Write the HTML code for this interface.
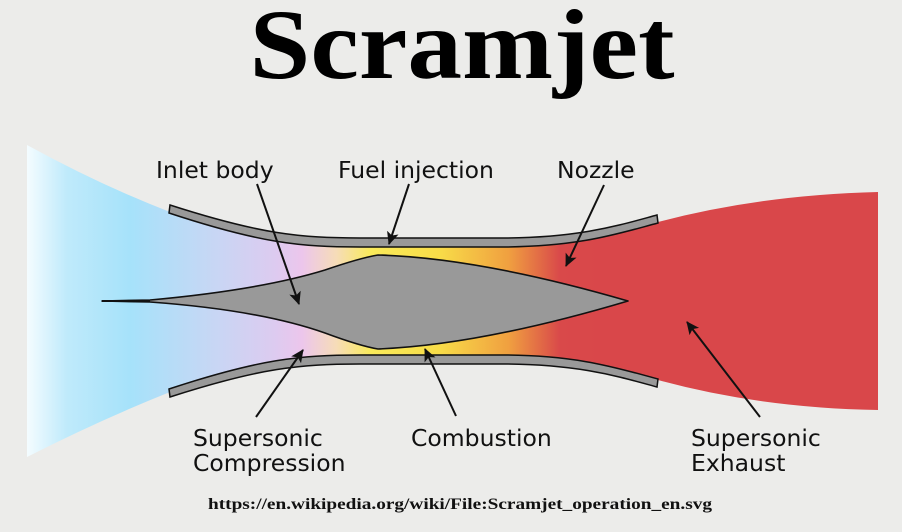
<!DOCTYPE html>
<html><head><meta charset="utf-8"><style>
html,body{margin:0;padding:0;background:#ececea;width:902px;height:532px;overflow:hidden}
svg{display:block}
.l{font-family:"DejaVu Sans","Liberation Sans",sans-serif;font-size:23.5px;fill:#111}
</style></head><body>
<svg width="902" height="532" viewBox="0 0 902 532" xmlns="http://www.w3.org/2000/svg">
<defs>
<linearGradient id="g" x1="27" y1="0" x2="600" y2="0" gradientUnits="userSpaceOnUse">
<stop offset="0" stop-color="#f4fcff"/>
<stop offset="0.07" stop-color="#bfeafb"/>
<stop offset="0.18" stop-color="#a6e2fa"/>
<stop offset="0.33" stop-color="#c8d6f4"/>
<stop offset="0.43" stop-color="#dccbf0"/>
<stop offset="0.48" stop-color="#ecc6ec"/>
<stop offset="0.54" stop-color="#f6dcb8"/>
<stop offset="0.6" stop-color="#f9ea5a"/>
<stop offset="0.72" stop-color="#f8dc48"/>
<stop offset="0.84" stop-color="#f0a040"/>
<stop offset="0.93" stop-color="#d9494a"/>
<stop offset="1" stop-color="#d9474a"/>
</linearGradient>
<marker id="a" markerWidth="14" markerHeight="14" refX="12" refY="7" orient="auto" markerUnits="userSpaceOnUse" viewBox="0 0 14 14"><path d="M0,1 L13,7 L0,13 L3,7 Z" fill="#111"/></marker>
</defs>
<rect width="902" height="532" fill="#ececea"/>
<text x="462" y="78" text-anchor="middle" font-family="'Liberation Serif',serif" font-weight="bold" font-size="100" textLength="425" lengthAdjust="spacingAndGlyphs" fill="#000">Scramjet</text>
<path d="M27,145 Q100,185 170,212 C260,242 300,247 360,247 L500,247 C580,247 620,232 658,222 Q760,195 878,192 L878,410 Q760,408 658,380 C620,370 580,355 500,355 L360,355 C300,355 260,360 170,392 Q100,420 27,457 Z" fill="url(#g)"/>
<path d="M170,205 C260,234 300,238 360,238 L500,238 C580,238 620,225 657,215 L658,223 C620,233 580,247 500,247 L360,247 C300,247 260,243 169,213 Z" fill="#999" stroke="#111" stroke-width="1.5"/>
<path d="M170,397 C260,368 300,364 360,364 L500,364 C580,364 620,377 657,387 L658,379 C620,369 580,355 500,355 L360,355 C300,355 260,359 169,389 Z" fill="#999" stroke="#111" stroke-width="1.5"/>
<path d="M102,301 L150,300 Q260,290 325,270 Q360,258 378,255 Q480,258 628,301 Q480,345 378,349 Q360,346 325,333 Q260,310 150,302 Z" fill="#999" stroke="#111" stroke-width="1.6" stroke-linejoin="round"/>
<line x1="102" y1="301" x2="150" y2="301" stroke="#111" stroke-width="2"/>
<g stroke="#111" stroke-width="2" marker-end="url(#a)">
<line x1="257" y1="184" x2="299" y2="304"/>
<line x1="409" y1="184" x2="389" y2="244"/>
<line x1="604" y1="185" x2="566" y2="266"/>
<line x1="256" y1="417" x2="303" y2="350"/>
<line x1="456" y1="416" x2="425" y2="349"/>
<line x1="760" y1="417" x2="687" y2="322"/>
</g>
<text class="l" x="156" y="178">Inlet body</text>
<text class="l" x="338" y="178">Fuel injection</text>
<text class="l" x="557" y="178">Nozzle</text>
<text class="l" x="193" y="446">Supersonic</text>
<text class="l" x="193" y="471">Compression</text>
<text class="l" x="411" y="446">Combustion</text>
<text class="l" x="691" y="446">Supersonic</text>
<text class="l" x="691" y="471">Exhaust</text>
<text x="460" y="509" text-anchor="middle" font-family="'Liberation Serif',serif" font-weight="bold" font-size="15.5" textLength="504" lengthAdjust="spacingAndGlyphs" fill="#111">https://en.wikipedia.org/wiki/File:Scramjet_operation_en.svg</text>
</svg>
</body></html>
